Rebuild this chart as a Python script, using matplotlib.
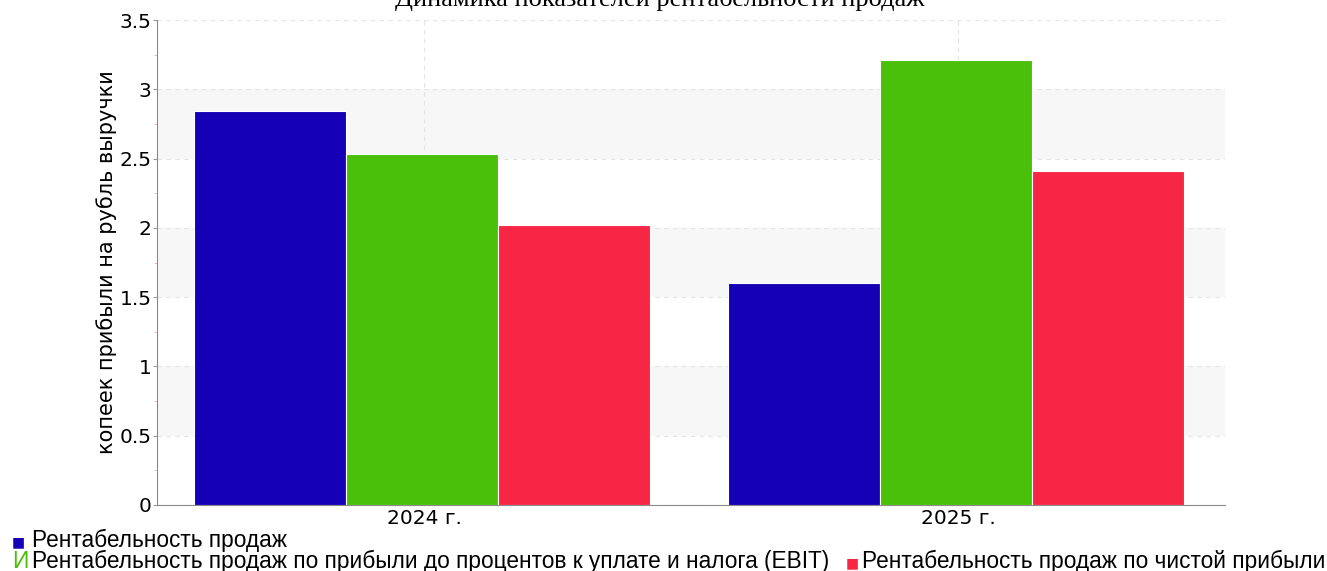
import numpy as np
import matplotlib
matplotlib.use("Agg")
import matplotlib.pyplot as plt
from matplotlib.ticker import MultipleLocator

# данные
years = ["2024 г.", "2025 г."]
ros = [2.84, 1.60]          # Рентабельность продаж
ros_ebit = [2.53, 3.21]     # по прибыли до процентов и налога (EBIT)
ros_net = [2.02, 2.41]      # по чистой прибыли
colors = ["#1500b5", "#4bc00a", "#f72645"]
series = [ros, ros_ebit, ros_net]

tick_font = ["DejaVu Sans Condensed", "DejaVu Sans"]

fig = plt.figure(figsize=(13.27, 5.71), dpi=100)
ax = fig.add_axes([157 / 1327, 1 - 505 / 571, (1225 - 157) / 1327, (505 - 20) / 571])

x = np.arange(len(years))
w = 0.285
for i, (vals, c) in enumerate(zip(series, colors)):
    ax.bar(x + (i - 1) * w - 0.004, vals, width=w, color=c, edgecolor="white", linewidth=0.8, zorder=3)

# светлые полосы фона
for lo in [0.5, 1.5, 2.5]:
    ax.axhspan(lo, lo + 0.5, color="#f7f7f7", zorder=0, lw=0)

ax.set_xlim(-0.5, 1.5)
ax.set_ylim(0, 3.5)
ax.set_xticks(x)
ax.set_xticklabels(years, family=tick_font, fontsize=14.5)
ax.yaxis.set_major_locator(MultipleLocator(0.5))
ax.yaxis.set_minor_locator(MultipleLocator(0.25))
ax.set_yticks(np.arange(0, 3.51, 0.5))
ax.set_yticklabels(["0", "0.5", "1", "1.5", "2", "2.5", "3", "3.5"], family=tick_font, fontsize=14.5)
ax.tick_params(axis="y", which="major", length=3, color="#999999", pad=1)
ax.tick_params(axis="y", which="minor", length=2, color="#f0b0b8")
ax.tick_params(axis="x", length=0, pad=3)

ax.grid(True, axis="both", which="major", linestyle=(0, (4, 4)), color="#e4e4e4", linewidth=0.8, zorder=1)

for s in ["top", "right"]:
    ax.spines[s].set_visible(False)
for s in ["left", "bottom"]:
    ax.spines[s].set_color("#8a8a8a")

ax.set_ylabel("копеек прибыли на рубль выручки", family=tick_font, fontsize=15, labelpad=2)

fig.text(0.497, 1 - 6 / 571, "Динамика показателей рентабельности продаж",
         family="Liberation Serif", fontsize=19, ha="center", va="baseline")

# легенда
lf = 16.3
fig.text(12 / 1327, 1 - 542 / 571, "■", color=colors[0], fontsize=10, va="center", family="DejaVu Sans")
fig.text(32 / 1327, 1 - 540 / 571, "Рентабельность продаж", fontsize=lf, va="center", family="Liberation Sans")
fig.text(12 / 1327, 1 - 561 / 571, "И", color=colors[1], fontsize=lf, va="center", family="Liberation Sans")
fig.text(32 / 1327, 1 - 561 / 571, "Рентабельность продаж по прибыли до процентов к уплате и налога (EBIT)",
         fontsize=lf, va="center", family="Liberation Sans")
fig.text(846 / 1327, 1 - 563 / 571, "■", color=colors[2], fontsize=10, va="center", family="DejaVu Sans")
fig.text(862 / 1327, 1 - 561 / 571, "Рентабельность продаж по чистой прибыли",
         fontsize=lf, va="center", family="Liberation Sans")

fig.savefig("out.png", dpi=100)
